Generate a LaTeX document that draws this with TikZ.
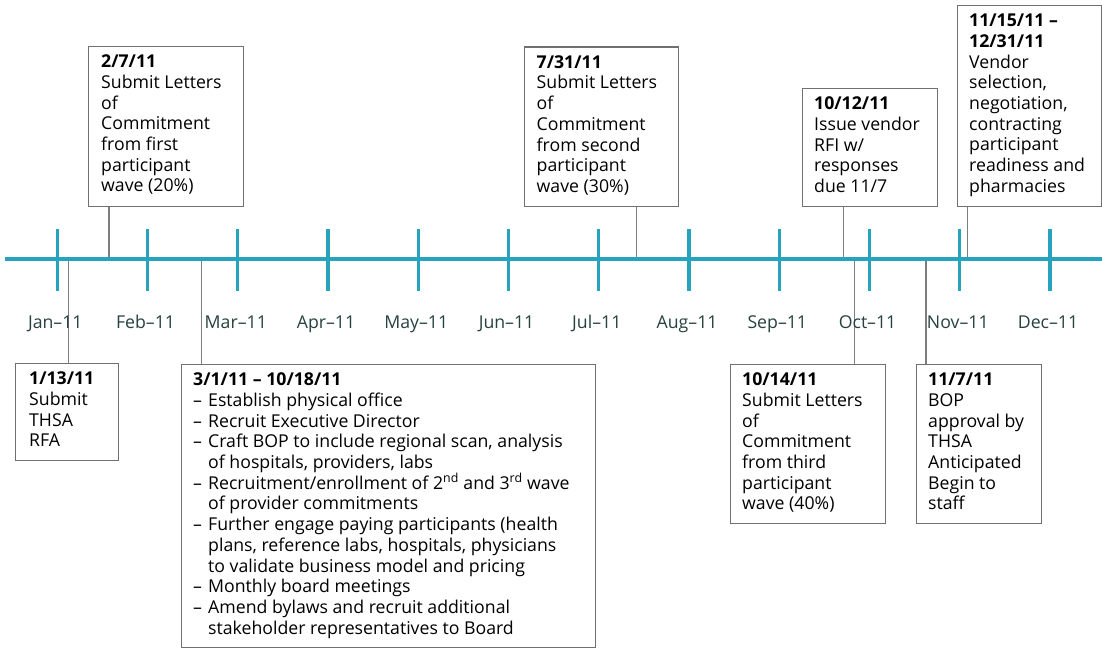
\documentclass[tikz,border=0pt]{standalone}
\usepackage{fontspec}
\setmainfont{Open Sans}
\definecolor{axisteal}{RGB}{40,163,190}
\definecolor{monthink}{RGB}{38,66,64}
\definecolor{boxline}{RGB}{112,112,112}
\definecolor{leader}{RGB}{125,125,125}
\newcommand\dashitem{\makebox[15pt][l]{–}}
\newcommand\cont{\hspace*{15pt}}
\newcommand\firstline{\rule{0pt}{15pt}}
\tikzset{
  axisline/.style={draw=axisteal, line width=4pt},
  monthtick/.style={draw=axisteal, line width=3.3pt},
  month/.style={anchor=base, inner sep=0pt, text=monthink,
    font=\fontsize{17.7}{20.7}\selectfont},
  evbox/.style={draw=boxline, line width=1.4pt, fill=white,
    anchor=north west, inner sep=0pt},
  evtext/.style={anchor=north west, inner sep=0pt, align=left,
    font=\fontsize{17.7}{20.7}\selectfont},
  leaderline/.style={draw=leader, line width=1.4pt},
}
\begin{document}
\begin{tikzpicture}[x=1pt,y=-1pt]
\useasboundingbox[fill=white] (0,0) rectangle (1102,650);

% event boxes
\node[evbox, minimum width=155pt, minimum height=160pt] (b2) at (88,46) {};
\node[evbox, minimum width=103pt, minimum height=97pt]  (b1) at (15,363) {};
\node[evbox, minimum width=414pt, minimum height=283pt] (b3) at (181,364) {};
\node[evbox, minimum width=154pt, minimum height=159pt] (b4) at (523.5,46.5) {};
\node[evbox, minimum width=135pt, minimum height=118pt] (b5) at (802,88) {};
\node[evbox, minimum width=144pt, minimum height=201pt] (b6) at (957,5) {};
\node[evbox, minimum width=155pt, minimum height=159pt] (b7) at (730,364) {};
\node[evbox, minimum width=125pt, minimum height=159pt] (b8) at (916,364) {};

% box texts
\node[evtext] (t2) at ([shift={(13,6.5)}]b2.north west) {\firstline\textbf{2/7/11}\\
  Submit Letters\\ of\\ Commitment\\ from first\\ participant\\ wave (20\%)};
\node[evtext] (t1) at ([shift={(14,6.5)}]b1.north west) {\firstline\textbf{1/13/11}\\
  Submit\\ THSA\\ RFA};
\node[evtext] (t3) at ([shift={(12,6.5)}]b3.north west) {\firstline\textbf{3/1/11 – 10/18/11}\\
  \dashitem Establish physical office\\
  \dashitem Recruit Executive Director\\
  \dashitem Craft BOP to include regional scan, analysis\\
  \cont of hospitals, providers, labs\\
  \dashitem Recruitment/enrollment of 2\textsuperscript{nd} and 3\textsuperscript{rd} wave\\
  \cont of provider commitments\\
  \dashitem Further engage paying participants (health\\
  \cont plans, reference labs, hospitals, physicians\\
  \cont to validate business model and pricing\\
  \dashitem Monthly board meetings\\
  \dashitem Amend bylaws and recruit additional\\
  \cont stakeholder representatives to Board};
\node[evtext] (t4) at ([shift={(13,6.5)}]b4.north west) {\firstline\textbf{7/31/11}\\
  Submit Letters\\ of\\ Commitment\\ from second\\ participant\\ wave (30\%)};
\node[evtext] (t5) at ([shift={(12,6.5)}]b5.north west) {\firstline\textbf{10/12/11}\\
  Issue vendor\\ RFI w/\\ responses\\ due 11/7};
\node[evtext] (t6) at ([shift={(12,6.5)}]b6.north west) {\firstline\textbf{11/15/11 –}\\
  \textbf{12/31/11}\\ Vendor\\ selection,\\ negotiation,\\ contracting\\ participant\\
  readiness and\\ pharmacies};
\node[evtext] (t7) at ([shift={(12,6.5)}]b7.north west) {\firstline\textbf{10/14/11}\\
  Submit Letters\\ of\\ Commitment\\ from third\\ participant\\ wave (40\%)};
\node[evtext] (t8) at ([shift={(12,6.5)}]b8.north west) {\firstline\textbf{11/7/11}\\
  BOP\\ approval by\\ THSA\\ Anticipated\\ Begin to\\ staff};

% leader lines from the boxes to their dates on the axis
\coordinate (d1) at (68.3,259.3);
\coordinate (d2) at (109,259.3);
\coordinate (d3) at (201.7,259.3);
\coordinate (d4) at (636.7,259.3);
\coordinate (d5) at (843.3,259.3);
\coordinate (d6) at (967.3,259.3);
\coordinate (d7) at (854.3,259.3);
\coordinate (d8) at (926,259.3);
\draw[leaderline] (b1.north -| d1) -- (d1);
\draw[leaderline] (b2.south -| d2) -- (d2);
\draw[leaderline] (b3.north -| d3) -- (d3);
\draw[leaderline] (b4.south -| d4) -- (d4);
\draw[leaderline] (b5.south -| d5) -- (d5);
\draw[leaderline] (b6.south -| d6) -- (d6);
\draw[leaderline] (b7.north -| d7) -- (d7);
\draw[leaderline] (b8.north -| d8) -- (d8);

% time axis with monthly ticks
\coordinate (axL) at (5,259.3);
\coordinate (axR) at (1102,259.3);
\draw[axisline] (axL) -- (axR);
\foreach \m [count=\i from 0] in {Jan,Feb,Mar,Apr,May,Jun,Jul,Aug,Sep,Oct,Nov,Dec}{
  \coordinate (m\i) at (57.3+90.25*\i,259.3);
  \draw[monthtick] ([yshift=30pt]m\i) -- ([yshift=-31.5pt]m\i);
  \node[month] (lab\i) at ([shift={(-2,68.7)}]m\i) {\m–11};
}
\end{tikzpicture}
\end{document}
